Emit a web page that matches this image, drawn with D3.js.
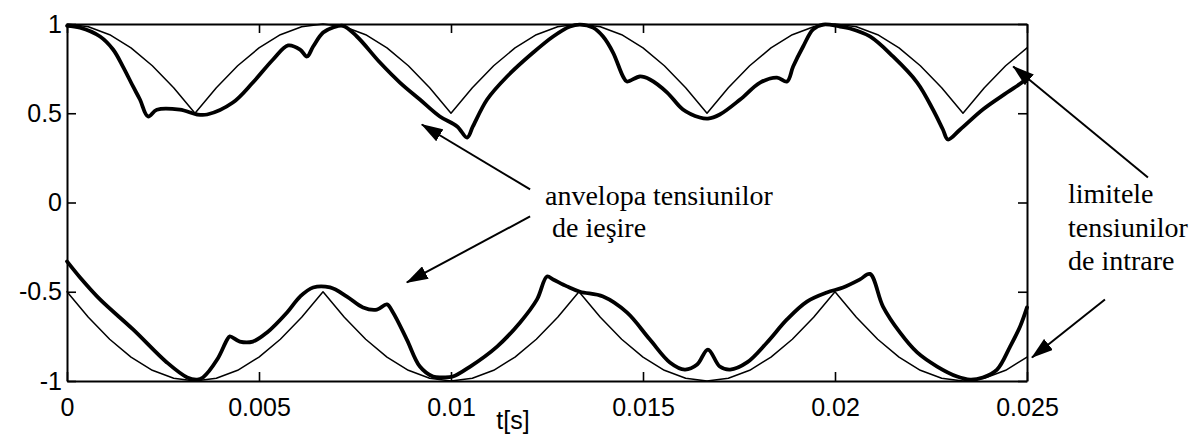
<!DOCTYPE html>
<html>
<head>
<meta charset="utf-8">
<script src="https://cdn.jsdelivr.net/npm/d3@7"></script>
<style>
  body { margin: 0; background: #fff; }
</style>
</head>
<body>
<script>
// axis ticks
let xTicks = [0, 0.005, 0.01, 0.015, 0.02, 0.025]
let xTickLabels = ['0', '0.005', '0.01', '0.015', '0.02', '0.025']
let yTicks = [-1, -0.5, 0, 0.5, 1]
let yTickLabels = ['-1', '-0.5', '0', '0.5', '1']

// limitele tensiunilor de intrare (thin lines)
let inT = [0, 0.000556, 0.001111, 0.001667, 0.002222, 0.002778, 0.003333, 0.003889, 0.004444, 0.005,
  0.005556, 0.006111, 0.006667, 0.007222, 0.007778, 0.008333, 0.008889, 0.009444, 0.01, 0.010556,
  0.011111, 0.011667, 0.012222, 0.012778, 0.013333, 0.013889, 0.014444, 0.015, 0.015556, 0.016111,
  0.016667, 0.017222, 0.017778, 0.018333, 0.018889, 0.019444, 0.02, 0.020556, 0.021111, 0.021667,
  0.022222, 0.022778, 0.023333, 0.023889, 0.024444, 0.025]
let inUpper = [1, 0.985, 0.94, 0.866, 0.766, 0.643, 0.5, 0.643, 0.766, 0.866, 0.94, 0.985,
  1, 0.985, 0.94, 0.866, 0.766, 0.643, 0.5, 0.643, 0.766, 0.866, 0.94, 0.985,
  1, 0.985, 0.94, 0.866, 0.766, 0.643, 0.5, 0.643, 0.766, 0.866, 0.94, 0.985,
  1, 0.985, 0.94, 0.866, 0.766, 0.643, 0.5, 0.643, 0.766, 0.866]
let inLower = [-0.5, -0.643, -0.766, -0.866, -0.94, -0.985, -1, -0.985, -0.94, -0.866, -0.766, -0.643,
  -0.5, -0.643, -0.766, -0.866, -0.94, -0.985, -1, -0.985, -0.94, -0.866, -0.766, -0.643,
  -0.5, -0.643, -0.766, -0.866, -0.94, -0.985, -1, -0.985, -0.94, -0.866, -0.766, -0.643,
  -0.5, -0.643, -0.766, -0.866, -0.94, -0.985, -1, -0.985, -0.94, -0.866]

// anvelopa tensiunilor de iesire (thick lines)
let outUpperT = [0, 0.00034, 0.00086, 0.0012, 0.00146, 0.00172, 0.0019, 0.00211, 0.00234, 0.00294,
  0.00339, 0.00365, 0.00432, 0.00484, 0.00536, 0.00576, 0.00607, 0.00625, 0.00641, 0.00667,
  0.00693, 0.00719, 0.00755, 0.00815, 0.00867, 0.00919, 0.00971, 0.01016, 0.01042, 0.01057,
  0.01094, 0.01146, 0.01214, 0.01266, 0.0131, 0.01336, 0.0137, 0.01396, 0.01422, 0.01448,
  0.01458, 0.01492, 0.01518, 0.01563, 0.01604, 0.01648, 0.01669, 0.017, 0.01753, 0.01805,
  0.01849, 0.01875, 0.01891, 0.01917, 0.01943, 0.01969, 0.02013, 0.02039, 0.02091, 0.02151,
  0.02214, 0.02255, 0.02281, 0.02294, 0.02326, 0.02385, 0.02448, 0.0249, 0.025]
let outUpper = [0.99, 0.98, 0.93, 0.857, 0.76, 0.65, 0.577, 0.482, 0.52, 0.52,
  0.493, 0.493, 0.56, 0.672, 0.8, 0.88, 0.857, 0.818, 0.874, 0.952,
  0.98, 0.99, 0.93, 0.784, 0.672, 0.577, 0.482, 0.426, 0.364, 0.426,
  0.577, 0.706, 0.84, 0.93, 0.986, 0.997, 0.98, 0.93, 0.84, 0.706,
  0.678, 0.706, 0.689, 0.616, 0.521, 0.476, 0.47, 0.493, 0.577, 0.672,
  0.7, 0.678, 0.762, 0.874, 0.97, 0.997, 0.986, 0.975, 0.93, 0.818,
  0.672, 0.521, 0.409, 0.353, 0.409, 0.521, 0.616, 0.678, 0.7]
let outLowerT = [0, 0.00034, 0.00086, 0.00172, 0.0026, 0.00313, 0.00339, 0.00354, 0.00391, 0.00417,
  0.00424, 0.0045, 0.00484, 0.00521, 0.00573, 0.00607, 0.00641, 0.00685, 0.00729, 0.00771,
  0.00807, 0.00833, 0.00849, 0.00885, 0.00919, 0.00953, 0.00979, 0.01005, 0.0105, 0.0112,
  0.0118, 0.01224, 0.0125, 0.01266, 0.01302, 0.01336, 0.01396, 0.01458, 0.01518, 0.0157,
  0.01609, 0.01641, 0.01669, 0.017, 0.01727, 0.01771, 0.01823, 0.01875, 0.01927, 0.01979,
  0.02021, 0.02065, 0.02091, 0.02125, 0.02169, 0.02214, 0.02266, 0.02318, 0.02352, 0.02385,
  0.02422, 0.02456, 0.02482, 0.025]
let outLower = [-0.33, -0.42, -0.543, -0.711, -0.896, -0.98, -0.992, -0.98, -0.88, -0.768,
  -0.75, -0.779, -0.779, -0.728, -0.616, -0.527, -0.476, -0.476, -0.527, -0.588,
  -0.6, -0.571, -0.616, -0.768, -0.919, -0.975, -0.98, -0.975, -0.919, -0.807,
  -0.672, -0.543, -0.415, -0.431, -0.47, -0.5, -0.527, -0.616, -0.768, -0.896,
  -0.936, -0.908, -0.824, -0.919, -0.936, -0.896, -0.784, -0.655, -0.555, -0.504,
  -0.476, -0.431, -0.4, -0.583, -0.728, -0.84, -0.919, -0.975, -0.992, -0.98,
  -0.936, -0.807, -0.695, -0.588]

let width = 1202,
  height = 437

let x = d3.scaleLinear().domain([0, 0.025]).range([67, 1027])
let y = d3.scaleLinear().domain([-1, 1]).range([381, 24])

let svg = d3.select('body').append('svg')
  .attr('width', width)
  .attr('height', height)

let sansFont = '"Liberation Sans", Arial, Helvetica, sans-serif'
let serifFont = '"Liberation Serif", "Times New Roman", serif'

function styleAxis(g) {
  g.attr('font-size', 25).attr('font-family', sansFont)
  g.select('.domain').attr('stroke', '#000').attr('stroke-width', 2)
  g.selectAll('.tick line').attr('stroke', '#000').attr('stroke-width', 1.6)
  g.selectAll('.tick text').attr('fill', '#000')
}

// box with inward ticks on all four sides
svg.append('g')
  .attr('transform', `translate(0,${y(-1)})`)
  .call(d3.axisBottom(x).tickValues(xTicks).tickFormat((d, i) => xTickLabels[i])
    .tickSizeInner(-9).tickSizeOuter(0).tickPadding(17))
  .call(styleAxis)

svg.append('g')
  .attr('transform', `translate(0,${y(1)})`)
  .call(d3.axisTop(x).tickValues(xTicks).tickFormat('')
    .tickSizeInner(-9).tickSizeOuter(0))
  .call(styleAxis)

svg.append('g')
  .attr('transform', `translate(${x(0)},0)`)
  .call(d3.axisLeft(y).tickValues(yTicks).tickFormat((d, i) => yTickLabels[i])
    .tickSizeInner(-9).tickSizeOuter(0).tickPadding(5))
  .call(styleAxis)

svg.append('g')
  .attr('transform', `translate(${x(0.025)},0)`)
  .call(d3.axisRight(y).tickValues(yTicks).tickFormat('')
    .tickSizeInner(-9).tickSizeOuter(0))
  .call(styleAxis)

// x axis label
svg.append('text')
  .attr('x', 513)
  .attr('y', 429)
  .attr('text-anchor', 'middle')
  .attr('font-family', sansFont)
  .attr('font-size', 25)
  .text('t[s]')

// curves: thin limits are straight segments, thick envelope is smoothed
let thinLine = d3.line()
  .x(d => x(d[0]))
  .y(d => y(d[1]))

let thickLine = d3.line()
  .x(d => x(d[0]))
  .y(d => y(d[1]))
  .curve(d3.curveCatmullRom.alpha(0.5))

let curves = [
  { data: d3.zip(inT, inUpper), w: 1.5, gen: thinLine },
  { data: d3.zip(inT, inLower), w: 1.5, gen: thinLine },
  { data: d3.zip(outUpperT, outUpper), w: 3.8, gen: thickLine },
  { data: d3.zip(outLowerT, outLower), w: 3.8, gen: thickLine }
]

svg.append('g').attr('class', 'curves')
  .selectAll('path')
  .data(curves)
  .enter().append('path')
  .attr('d', d => d.gen(d.data))
  .attr('fill', 'none')
  .attr('stroke', '#000')
  .attr('stroke-width', d => d.w)
  .attr('stroke-linejoin', 'round')
  .attr('stroke-linecap', 'round')

// arrows
svg.append('defs').append('marker')
  .attr('id', 'arrow')
  .attr('markerUnits', 'userSpaceOnUse')
  .attr('viewBox', '0 -7 22 14')
  .attr('markerWidth', 22)
  .attr('markerHeight', 14)
  .attr('refX', 21)
  .attr('refY', 0)
  .attr('orient', 'auto')
  .append('path')
  .attr('d', 'M0,-7L22,0L0,7Z')
  .attr('fill', '#000')

let arrows = [
  { from: [0.01206, 0.073], to: [0.00924, 0.437] },
  { from: [0.01206, -0.078], to: [0.00885, -0.448] },
  { from: [0.02815, 0.14], to: [0.02464, 0.762] },
  { from: [0.02703, -0.543], to: [0.02513, -0.868] }
]

svg.append('g').attr('class', 'arrows')
  .selectAll('line')
  .data(arrows)
  .enter().append('line')
  .attr('x1', d => x(d.from[0]))
  .attr('y1', d => y(d.from[1]))
  .attr('x2', d => x(d.to[0]))
  .attr('y2', d => y(d.to[1]))
  .attr('stroke', '#000')
  .attr('stroke-width', 2)
  .attr('marker-end', 'url(#arrow)')

// annotations
let notes = [
  { x: 545, y: 205, text: 'anvelopa tensiunilor' },
  { x: 552, y: 237, text: 'de ieşire' },
  { x: 1068, y: 203, text: 'limitele' },
  { x: 1068, y: 237, text: 'tensiunilor' },
  { x: 1068, y: 270, text: 'de intrare' }
]

svg.append('g').attr('class', 'notes')
  .selectAll('text')
  .data(notes)
  .enter().append('text')
  .attr('x', d => d.x)
  .attr('y', d => d.y)
  .attr('font-family', serifFont)
  .attr('font-size', 28)
  .attr('fill', '#000')
  .text(d => d.text)
</script>
</body>
</html>
